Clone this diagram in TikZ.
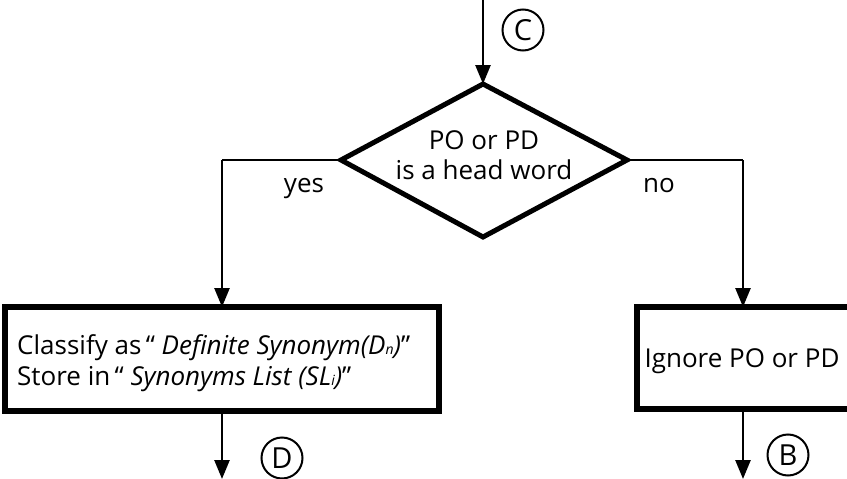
\documentclass[tikz,border=0pt]{standalone}
\usepackage{fontspec}
\setmainfont{Open Sans}
\usetikzlibrary{arrows.meta,shapes.geometric}
\begin{document}
\begin{tikzpicture}[x=1pt,y=-1pt,
  conn/.style={line width=2.6pt,-{Triangle[width=15pt,length=19pt]}},
  plain/.style={line width=2.6pt},
  boxstyle/.style={draw,line width=6.5pt},
  dia/.style={draw,line width=5pt},
  lbl/.style={circle,draw,line width=2pt,minimum size=41pt,inner sep=0pt,font=\fontsize{29}{30}\selectfont},
  txt/.style={font=\fontsize{26}{30}\selectfont,inner sep=0pt}]
\useasboundingbox (0,0) rectangle (847,479);
% diamond
\coordinate (dt) at (483,84);
\coordinate (dl) at (341,160);
\coordinate (dr) at (627,160);
\coordinate (db) at (483,237);
\draw[dia,line join=miter] (dt) -- (dr) -- (db) -- (dl) -- cycle;
\node[txt,anchor=base] (q1) at (484,149) {PO or PD};
\node[txt,anchor=base] (q2) at (484,179) {is a head word};
% top entry
\coordinate (top) at (483,0);
\draw[conn] (top) -- (dt);
\node[lbl] (c) at (523,30) {C};
% left box
\draw[boxstyle] (5,307) rectangle (439,411);
\coordinate (lbt) at (222,307);
\coordinate (lbb) at (222,411);
\node[txt,anchor=base west] (lt1) at (17,354) {Classify as\,“ \textit{Definite Synonym(D{\fontsize{14}{14}\selectfont n})}”};
\node[txt,anchor=base west] (lt2) at (17,385) {Store in\,“ \textit{Synonyms List (SL{\fontsize{14}{14}\selectfont i})}”};
% right box
\draw[boxstyle] (637,307) rectangle (860,409);
\coordinate (rbt) at (743,307);
\coordinate (rbb) at (743,409);
\node[txt,anchor=base] (rt) at (742,367) {Ignore PO or PD};
% branches
\coordinate (lk) at (222,160);
\coordinate (rk) at (743,160);
\draw[plain] (dl) -- (lk);
\draw[conn] (lk) -- (lbt);
\draw[plain] (dr) -- (rk);
\draw[conn] (rk) -- (rbt);
\node[txt,anchor=base] (yes) at (304,192) {yes};
\node[txt,anchor=base] (no) at (659,192) {no};
% exits
\coordinate (le) at (222,479);
\coordinate (re) at (743,479);
\draw[conn] (lbb) -- (le);
\draw[conn] (rbb) -- (re);
\node[lbl] (d) at (282,458) {D};
\node[lbl] (b) at (788,455) {B};
\end{tikzpicture}
\end{document}
